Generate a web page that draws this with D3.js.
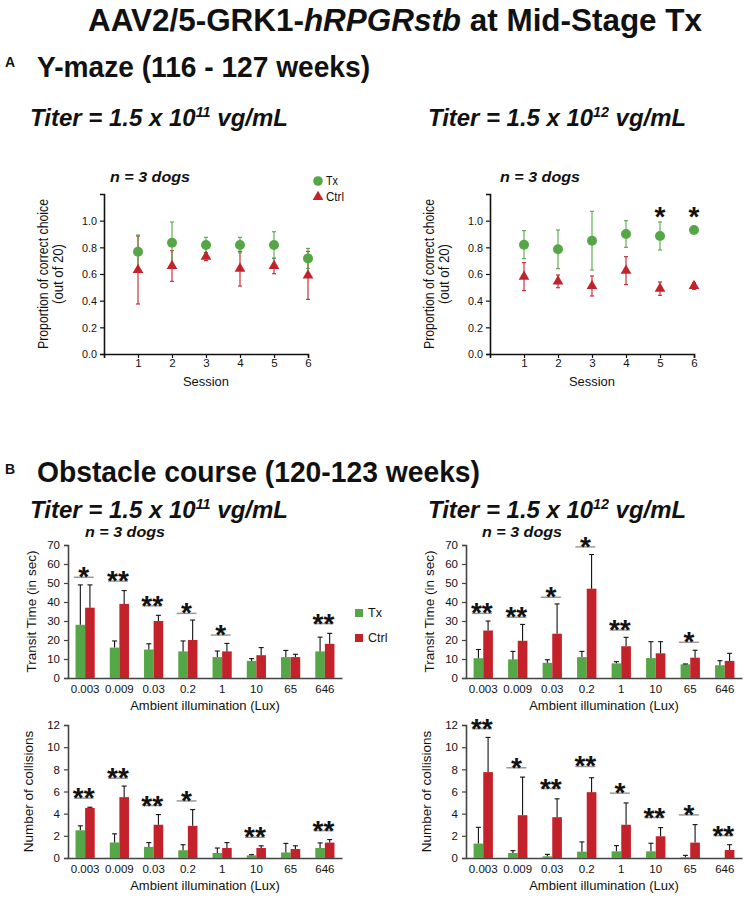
<!DOCTYPE html>
<html><head><meta charset="utf-8">
<script src="https://cdn.jsdelivr.net/npm/d3@7"></script>
<style>
html,body{margin:0;padding:0;background:#fff;}
svg{display:block;}
text{font-family:"Liberation Sans",Arial,sans-serif;fill:#111;}
</style></head>
<body>
<svg id="c" width="744" height="898"></svg>
<script>
// ---------- DATA ----------
const sessions = [1,2,3,4,5,6];
const ymazeTicks = [0,0.2,0.4,0.6,0.8,1.0];
// Titer 1.5e11
const ymTxLow      = [0.767,0.835,0.817,0.817,0.817,0.717];
const ymTxLowErr   = [0.125,0.155,0.058,0.058,0.100,0.075];
const ymCtrlLow    = [0.630,0.660,0.730,0.640,0.660,0.590];
const ymCtrlLowErr = [0.255,0.115,0.030,0.130,0.058,0.180];
// Titer 1.5e12
const ymTxHigh      = [0.820,0.785,0.850,0.900,0.885,0.930];
const ymTxHighErr   = [0.105,0.145,0.220,0.100,0.105,0.012];
const ymCtrlHigh    = [0.580,0.545,0.510,0.625,0.490,0.510];
const ymCtrlHighErr = [0.105,0.048,0.075,0.105,0.050,0.025];
const ymSigHigh     = ["","","","","*","*"];

const luxLabels = ["0.003","0.009","0.03","0.2","1","10","65","646"];
const transitTicks = [0,10,20,30,40,50,60,70];
const collisionTicks = [0,2,4,6,8,10,12];
// Transit time, 1.5e11
const trTxLow      = [28,16,15,14,11,9,11,14];
const trTxLowErr   = [21,3.5,3,5.5,3.2,1.2,3.5,7.5];
const trCtrlLow    = [37,39,30,20,14,12,11,18];
const trCtrlLowErr = [12,7,3,10.5,4.2,4,1.5,5.5];
const trSigLow     = ["*","**","**","*","*","","","**"];
const trSigLowY    = [53,51,38,34,22.6,null,null,28.6];
// Transit time, 1.5e12
const trTxHigh      = [10.4,9.8,8,11,7.7,10.5,7.2,6.7];
const trTxHighErr   = [4.6,4.2,1.6,3,0.9,8.6,0.2,2.4];
const trCtrlHigh    = [25,19.6,23.3,47,16.7,13,10.7,9];
const trCtrlHighErr = [5,8.6,15.7,18,4.7,6.1,3.9,4];
const trSigHigh     = ["**","**","*","*","**","","*",""];
const trSigHighY    = [34,32,42.5,69,25.3,null,18.8,null];
// Collisions, 1.5e11
const coTxLow      = [2.5,1.4,1.0,0.7,0.45,0.24,0.5,0.9];
const coTxLowErr   = [0.4,0.78,0.39,0.5,0.45,0.06,0.82,0.46];
const coCtrlLow    = [4.52,5.49,3.0,2.9,0.9,0.9,0.81,1.39];
const coCtrlLowErr = [0.06,1.0,0.92,1.47,0.49,0.2,0.29,0.27];
const coSigLow     = ["**","**","**","*","","**","","**"];
const coSigLowY    = [5.4,7.2,4.73,5.15,null,1.87,null,2.47];
// Collisions, 1.5e12
const coTxHigh      = [1.3,0.45,0.15,0.57,0.6,0.6,0.06,0];
const coTxHighErr   = [1.47,0.21,0.18,0.88,0.52,0.73,0.18,0];
const coCtrlHigh    = [7.75,3.86,3.68,5.94,3.0,1.96,1.39,0.72];
const coCtrlHighErr = [3.13,3.44,1.66,1.3,1.97,0.78,1.62,0.48];
const coSigHigh     = ["**","*","**","**","*","**","*","**"];
const coSigHighY    = [11.67,8.14,6.27,8.26,5.85,3.65,3.89,2.02];

// ---------- STYLE ----------
const GREEN = "#55a647", RED = "#c3222b";
const svg = d3.select("#c");

function txt(x,y,s,opt={}){
  const t = svg.append("text").attr("x",x).attr("y",y)
    .attr("font-size",opt.size||12)
    .attr("font-weight",opt.bold?"bold":"normal")
    .attr("font-style",opt.italic?"italic":"normal")
    .attr("text-anchor",opt.anchor||"start");
  if(opt.len){ t.attr("textLength",opt.len).attr("lengthAdjust","spacingAndGlyphs"); }
  if(Array.isArray(s)){
    s.forEach(p=>{
      const ts=t.append("tspan").text(p.t);
      if(p.italic) ts.attr("font-style","italic");
      if(p.sup) ts.attr("font-size",(opt.size||12)*0.6).attr("dy",-(opt.size||12)*0.38);
      if(p.after) ts.attr("dy",(opt.size||12)*0.38);
    });
  } else t.text(s);
  return t;
}

// ---------- HEADINGS ----------
txt(88,31,[{t:"AAV2/5-GRK1-"},{t:"hRPGRstb",italic:true},{t:" at Mid-Stage Tx"}],{size:32,bold:true,len:614});
txt(5,67,"A",{size:14,bold:true});
txt(37,77,"Y-maze (116 - 127 weeks)",{size:30,bold:true,len:333});
function titer(x,y,exp){
  txt(x,y,[{t:"Titer = 1.5 x 10"},{t:exp,sup:true},{t:" vg/mL",after:true}],{size:24,bold:true,italic:true,len:258});
}
titer(30,126,"11"); titer(428,126,"12");
txt(150,182,"n = 3 dogs",{size:14,bold:true,italic:true,anchor:"middle",len:80});
txt(540,182,"n = 3 dogs",{size:14,bold:true,italic:true,anchor:"middle",len:80});

txt(5,474,"B",{size:14,bold:true});
txt(37,482,"Obstacle course (120-123 weeks)",{size:30,bold:true,len:443});
titer(30,518,"11"); titer(428,518,"12");
txt(125,537,"n = 3 dogs",{size:14,bold:true,italic:true,anchor:"middle",len:80});
txt(522,537,"n = 3 dogs",{size:14,bold:true,italic:true,anchor:"middle",len:80});

// ---------- Y-MAZE ----------
function ymaze(x0,tx,txErr,ct,ctErr,sig){
  const x = d3.scaleLinear().domain([0,6]).range([x0,x0+204]);
  const y = d3.scaleLinear().domain([0,1.2]).range([354,194]);
  const g = svg.append("g");
  const ya = g.append("g").attr("transform",`translate(${x0},0)`)
    .call(d3.axisLeft(y).tickValues(ymazeTicks).tickFormat(d3.format(".1f")).tickSizeOuter(0).tickSize(4).tickPadding(3));
  const xa = g.append("g").attr("transform",`translate(0,354)`)
    .call(d3.axisBottom(x).tickValues(sessions).tickFormat(d3.format("d")).tickSizeOuter(0).tickSize(4).tickPadding(1));
  [ya,xa].forEach(a=>{
    a.select(".domain").attr("stroke","#111").attr("stroke-width",1.6);
    a.selectAll(".tick line").attr("stroke","#111").attr("stroke-width",1.2);
    a.selectAll(".tick text").attr("font-size",11.5).attr("fill","#111");
  });
  ya.selectAll(".tick text").attr("textLength",15).attr("lengthAdjust","spacingAndGlyphs");
  txt(x0+102,386,"Session",{size:13.5,anchor:"middle",len:46});
  const lx = x0-56;
  svg.append("text").attr("transform",`translate(${lx},274) rotate(-90)`)
    .attr("text-anchor","middle").attr("font-size",14).attr("textLength",150).attr("lengthAdjust","spacingAndGlyphs").text("Proportion of correct choice");
  svg.append("text").attr("transform",`translate(${lx+15},274) rotate(-90)`)
    .attr("text-anchor","middle").attr("font-size",14).attr("textLength",60).attr("lengthAdjust","spacingAndGlyphs").text("(out of 20)");
  function errs(vals,es,col){
    sessions.forEach((s,i)=>{
      const cx=x(s), y1=y(vals[i]+es[i]), y2=y(vals[i]-es[i]);
      g.append("line").attr("x1",cx).attr("x2",cx).attr("y1",y1).attr("y2",y2).attr("stroke",col).attr("stroke-width",1.1);
      [y1,y2].forEach(yy=>g.append("line").attr("x1",cx-2).attr("x2",cx+2).attr("y1",yy).attr("y2",yy).attr("stroke",col).attr("stroke-width",1.1));
    });
  }
  errs(ct,ctErr,RED);
  errs(tx,txErr,GREEN);
  g.selectAll(".tri").data(ct).join("path")
    .attr("d",d3.symbol(d3.symbolTriangle,50)())
    .attr("transform",(d,i)=>`translate(${x(sessions[i])},${y(d)})`).attr("fill",RED);
  g.selectAll(".dot").data(tx).join("circle")
    .attr("cx",(d,i)=>x(sessions[i])).attr("cy",d=>y(d)).attr("r",5).attr("fill",GREEN);
  if(sig){
    sig.forEach((s,i)=>{ if(s) txt(x(sessions[i]),y(1.08)+16,s,{size:28,bold:true,anchor:"middle"}); });
  }
}
ymaze(104,ymTxLow,ymTxLowErr,ymCtrlLow,ymCtrlLowErr,null);
ymaze(490,ymTxHigh,ymTxHighErr,ymCtrlHigh,ymCtrlHighErr,ymSigHigh);
// Y-maze legend
svg.append("circle").attr("cx",318).attr("cy",181).attr("r",4.8).attr("fill",GREEN);
txt(326,185,"Tx",{size:12,len:12});
svg.append("path").attr("d",d3.symbol(d3.symbolTriangle,50)()).attr("transform","translate(318,197)").attr("fill",RED);
txt(326,201,"Ctrl",{size:12,len:18});

// ---------- OBSTACLE BARS ----------
function bars(x0,x1,yBot,yTop,maxV,ticks,tx,txErr,ct,ctErr,sig,sigY,ylabel,lblX){
  const x = d3.scaleBand().domain(luxLabels).range([x0,x1]).padding(0);
  const sub = d3.scaleBand().domain(["Tx","Ctrl"]).range([x.bandwidth()*0.22,x.bandwidth()*0.78]).padding(0);
  const y = d3.scaleLinear().domain([0,maxV]).range([yBot,yTop]);
  const g = svg.append("g");
  const ya = g.append("g").attr("transform",`translate(${x0},0)`)
    .call(d3.axisLeft(y).tickValues(ticks).tickSizeOuter(0).tickSize(4).tickPadding(4));
  const xa = g.append("g").attr("transform",`translate(0,${yBot})`)
    .call(d3.axisBottom(x).tickSize(0).tickSizeOuter(0).tickPadding(7));
  [ya,xa].forEach(a=>{
    a.select(".domain").attr("stroke","#444").attr("stroke-width",1.6);
    a.selectAll(".tick line").attr("stroke","#444").attr("stroke-width",1.2);
    a.selectAll(".tick text").attr("font-size",11.5).attr("fill","#222");
  });
  txt((x0+x1)/2,yBot+32,"Ambient illumination (Lux)",{size:13,anchor:"middle"});
  svg.append("text").attr("transform",`translate(${lblX},${(yBot+yTop)/2}) rotate(-90)`)
    .attr("text-anchor","middle").attr("font-size",13.5).text(ylabel);
  const series=[{k:"Tx",v:tx,e:txErr,c:GREEN},{k:"Ctrl",v:ct,e:ctErr,c:RED}];
  series.forEach(s=>{
    luxLabels.forEach((l,i)=>{
      if(s.v[i]<=0) return;
      const bx = x(l)+sub(s.k), bw=sub.bandwidth(), cx=bx+bw/2;
      g.append("rect").attr("x",bx).attr("y",y(s.v[i])).attr("width",bw).attr("height",yBot-y(s.v[i])).attr("fill",s.c);
      if(s.e[i]>0){
        const ye=y(s.v[i]+s.e[i]);
        g.append("line").attr("x1",cx).attr("x2",cx).attr("y1",y(s.v[i])).attr("y2",ye).attr("stroke","#111").attr("stroke-width",1.1);
        g.append("line").attr("x1",cx-2.5).attr("x2",cx+2.5).attr("y1",ye).attr("y2",ye).attr("stroke","#111").attr("stroke-width",1.1);
      }
    });
  });
  luxLabels.forEach((l,i)=>{
    if(!sig[i]) return;
    const ly=y(sigY[i]);
    const a=x(l)+x.bandwidth()*0.17, b=x(l)+x.bandwidth()*0.75;
    g.append("line").attr("x1",a).attr("x2",b).attr("y1",ly).attr("y2",ly).attr("stroke","#999").attr("stroke-width",1.5);
    txt((a+b)/2,ly+9,sig[i],{size:28,bold:true,anchor:"middle"});
  });
}
bars(68,342,678,545,70,transitTicks,trTxLow,trTxLowErr,trCtrlLow,trCtrlLowErr,trSigLow,trSigLowY,"Transit Time (in sec)",36);
bars(466,742,678,545,70,transitTicks,trTxHigh,trTxHighErr,trCtrlHigh,trCtrlHighErr,trSigHigh,trSigHighY,"Transit Time (in sec)",434);
bars(68,342,858,725,12,collisionTicks,coTxLow,coTxLowErr,coCtrlLow,coCtrlLowErr,coSigLow,coSigLowY,"Number of collisions",33);
bars(466,742,858,725,12,collisionTicks,coTxHigh,coTxHighErr,coCtrlHigh,coCtrlHighErr,coSigHigh,coSigHighY,"Number of collisions",431);
// obstacle legend
svg.append("rect").attr("x",355).attr("y",609).attr("width",8).attr("height",8).attr("fill",GREEN);
txt(368,617,"Tx",{size:12.5});
svg.append("rect").attr("x",355).attr("y",634).attr("width",8).attr("height",8).attr("fill",RED);
txt(368,642,"Ctrl",{size:12.5});
</script>
</body></html>
